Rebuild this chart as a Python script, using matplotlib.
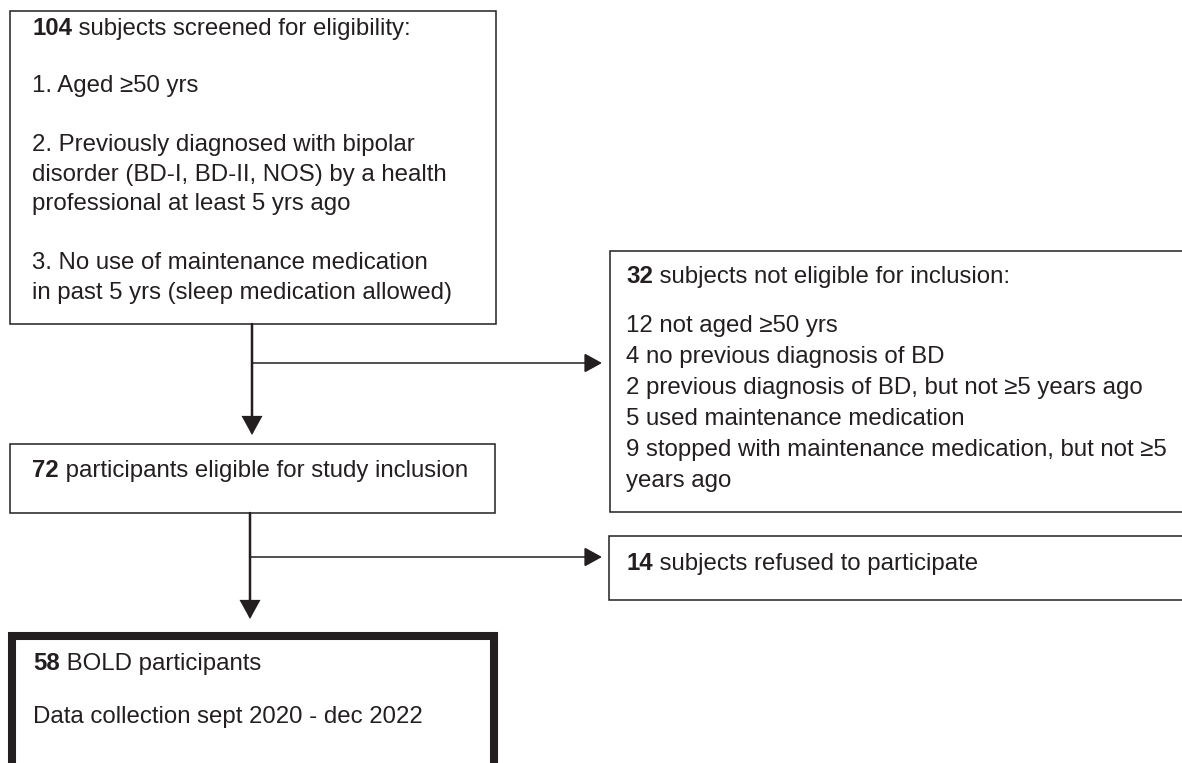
import matplotlib.pyplot as plt
from matplotlib.patches import Rectangle

plt.rcParams['font.family'] = ['Liberation Sans', 'DejaVu Sans']
ink = '#231f20'
fs = 17.3

# counts in the flow
n_screened = 104
n_not_eligible = 32
n_eligible = 72
n_refused = 14
n_final = 58

criteria = [
    ["1. Aged \u226550 yrs"],
    ["2. Previously diagnosed with bipolar",
     "disorder (BD-I, BD-II, NOS) by a health",
     "professional at least 5 yrs ago"],
    ["3. No use of maintenance medication",
     "in past 5 yrs (sleep medication allowed)"],
]
excl_counts = [12, 4, 2, 5, 9]
excl_reasons = ["not aged \u226550 yrs",
                "no previous diagnosis of BD",
                "previous diagnosis of BD, but not \u22655 years ago",
                "used maintenance medication",
                "stopped with maintenance medication, but not \u22655"]
excl_wrap = "years ago"

fig = plt.figure(figsize=(11.82, 7.63), dpi=100)
ax = fig.add_axes([0, 0, 1, 1])
ax.set_xlim(0, 1182)
ax.set_ylim(763, 0)
ax.axis('off')


def box(x0, y0, x1, y1, lw=1.1):
    # start the path at the bottom-right corner so the closing join is hidden
    ax.add_patch(Rectangle((x1, y1), x0 - x1, y0 - y1, fill=False,
                           edgecolor=ink, linewidth=lw, joinstyle='miter'))


def line(x, y, s, bold=None):
    # bold number followed by regular text on the same baseline
    if bold is None:
        ax.text(x, y, s, fontsize=fs, color=ink, va='baseline', ha='left')
        return
    t = ax.text(x, y, str(bold), fontsize=fs, color=ink, fontweight='bold',
                va='baseline', ha='left')
    ax.annotate(' ' + s, xy=(1, 0), xycoords=t, fontsize=fs, color=ink,
                va='bottom', ha='left')


def arrow(x0, y0, x1, y1, lw):
    ax.annotate('', xy=(x1, y1), xytext=(x0, y0),
                arrowprops=dict(arrowstyle='-|>,head_length=1.0,head_width=0.55',
                                color=ink, lw=lw, shrinkA=0, shrinkB=0,
                                mutation_scale=11, joinstyle='miter'))


# screening box
box(10, 11, 496, 324)
line(32, 35, "subjects screened for eligibility:", bold=n_screened)
y = 92
for para in criteria:
    for s in para:
        line(32, y, s)
        y += 29.5
    y += 29.5

# eligible box
box(10, 444, 495, 513)
line(32, 477, "participants eligible for study inclusion", bold=n_eligible)

# not eligible box
box(610, 251, 1200, 512)
line(626, 283, "subjects not eligible for inclusion:", bold=n_not_eligible)
y = 332
for c, r in zip(excl_counts, excl_reasons):
    line(626, y, f"{c} {r}")
    y += 31
line(626, y, excl_wrap)

# refused box
box(609, 536, 1200, 600)
line(626, 570, "subjects refused to participate", bold=n_refused)

# final box
box(12, 636, 494, 775, lw=5.8)
line(33, 670, "BOLD participants", bold=n_final)
line(33, 723, "Data collection sept 2020 - dec 2022")

# arrows
arrow(252, 324, 252, 435, 1.8)
arrow(252, 363, 602, 363, 1.1)
arrow(250, 513, 250, 619, 1.8)
arrow(250, 557, 602, 557, 1.1)

fig.savefig('out.png', dpi=100)
